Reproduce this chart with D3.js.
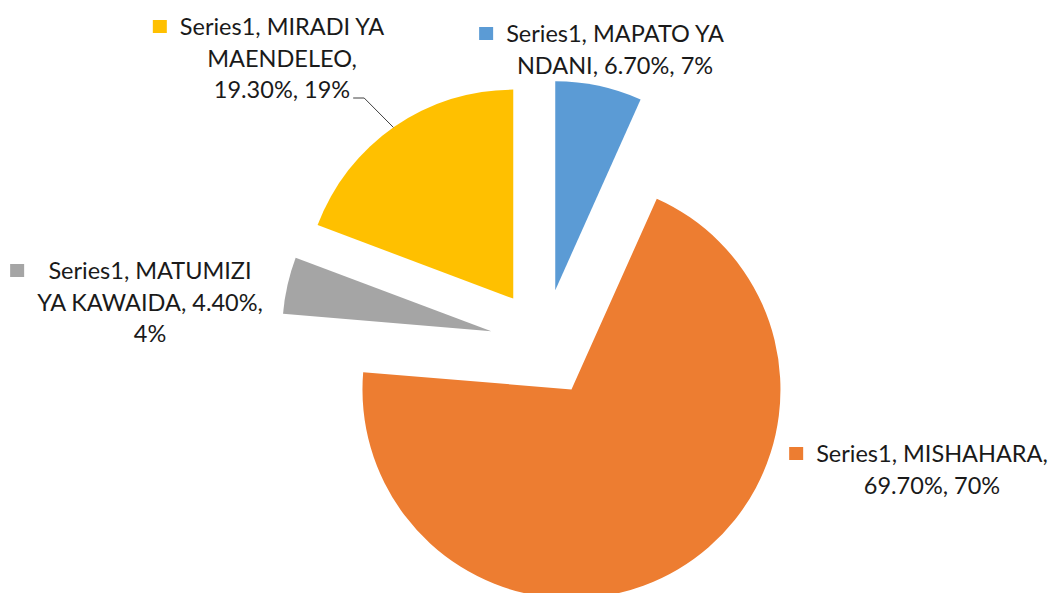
<!DOCTYPE html>
<html>
<head>
<meta charset="utf-8">
<script src="https://cdn.jsdelivr.net/npm/d3@7"></script>
<style>
  body { margin: 0; background: #fff; }
  svg { display: block; }
  .lbl { font-family: Lato, "Open Sans", sans-serif; fill: #1a1a1a; }
</style>
</head>
<body>
<svg id="chart" width="1051" height="593"></svg>
<script>
// data
const seriesName = 'Series1'
const categories = ['MAPATO YA NDANI', 'MISHAHARA', 'MATUMIZI YA KAWAIDA', 'MIRADI YA MAENDELEO']
const shares = [6.7, 69.7, 4.4, 19.3]
const colors = ['#5B9BD5', '#ED7D31', '#A5A5A5', '#FFC000']

// layout
const config = { width: 1051, height: 593, cx: 544, cy: 343, radius: 209, explode: 54, fontSize: 23.5, lineHeight: 31.5 }
// label block: center x, first baseline y, wrap width
const labelLayout = [
  { x: 615, y: 42, wrap: 235 },
  { x: 932, y: 462, wrap: 240 },
  { x: 150, y: 279, wrap: 230 },
  { x: 282, y: 35, wrap: 215 }
]

const svg = d3.select('#chart')
const g = svg.append('g').attr('transform', 'translate(' + config.cx + ',' + config.cy + ')')

const pie = d3.pie().sort(null).value(function(d) { return d })
const arcs = pie(shares)

const arc = d3.arc().innerRadius(0).outerRadius(config.radius)

function offset(d, dist) {
  const a = (d.startAngle + d.endAngle) / 2
  return [Math.sin(a) * dist, -Math.cos(a) * dist]
}

g.selectAll('path.slice')
  .data(arcs)
  .enter().append('path')
  .attr('class', 'slice')
  .attr('d', arc)
  .attr('fill', function(d, i) { return colors[i] })
  .attr('transform', function(d) {
    const o = offset(d, config.explode)
    return 'translate(' + o[0] + ',' + o[1] + ')'
  })

// wrap label text by width
const measure = svg.append('text').attr('class', 'lbl').style('font-size', config.fontSize + 'px')
function textWidth(s) {
  measure.text(s)
  return measure.node().getComputedTextLength()
}
function wrap(str, maxW) {
  const words = str.split(' ')
  const lines = []
  let cur = ''
  words.forEach(function(w) {
    const test = cur ? cur + ' ' + w : w
    if (cur && textWidth(test) > maxW) { lines.push(cur); cur = w }
    else cur = test
  })
  if (cur) lines.push(cur)
  return lines
}

const labels = svg.append('g')
categories.forEach(function(c, i) {
  const lay = labelLayout[i]
  const txt = seriesName + ', ' + c + ', ' + shares[i].toFixed(2) + '%, ' + Math.round(shares[i]) + '%'
  const lines = wrap(txt, lay.wrap)
  const t = labels.append('text')
    .attr('class', 'lbl')
    .style('font-size', config.fontSize + 'px')
    .attr('text-anchor', 'middle')
  lines.forEach(function(l, j) {
    t.append('tspan').attr('x', lay.x).attr('y', lay.y + j * config.lineHeight).text(l)
  })
  // legend key sits left of the widest line
  const wMax = d3.max(lines, textWidth)
  labels.append('rect')
    .attr('x', lay.x - wMax / 2 - 27)
    .attr('y', lay.y - 15)
    .attr('width', 14)
    .attr('height', 13)
    .attr('fill', colors[i])
  // leader line for the yellow label
  if (i === 3) {
    const wl = textWidth(lines[lines.length - 1])
    const ly = lay.y + (lines.length - 1) * config.lineHeight
    const sx = lay.x + wl / 2 + 3
    const o = offset(arcs[i], config.explode)
    const a = 325 * Math.PI / 180
    const ex = config.cx + o[0] + Math.sin(a) * config.radius
    const ey = config.cy + o[1] - Math.cos(a) * config.radius
    labels.append('path')
      .attr('d', 'M' + sx + ',' + ly + 'H' + (sx + 11) + 'L' + ex + ',' + ey)
      .attr('fill', 'none')
      .attr('stroke', '#404040')
      .attr('stroke-width', 1)
  }
})
measure.remove()
</script>
</body>
</html>
